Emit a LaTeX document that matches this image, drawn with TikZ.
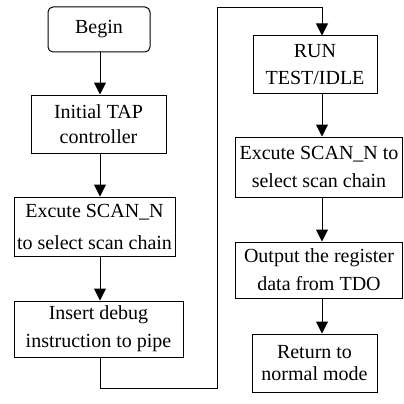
\documentclass[tikz,border=0pt]{standalone}
\usepackage{fontspec}
\setmainfont{Liberation Serif}
\newfontfamily\tnr{Liberation Serif}
\usetikzlibrary{arrows.meta}
\begin{document}
\begin{tikzpicture}[x=1pt,y=-1pt,
  box/.style={draw,line width=1pt,rectangle,inner sep=0pt,align=center,font=\tnr\fontsize{20}{26}\selectfont},
  arr/.style={line width=1pt,-{Triangle[width=12pt,length=12pt]}}]
\useasboundingbox (0,0) rectangle (404,404);
\coordinate (lx) at (100,0);
\coordinate (rx) at (322,0);
\node[box,rounded corners=5pt,minimum width=102pt,minimum height=45pt] (begin) at (99,29.5) {Begin};
\node[box,minimum width=135pt,minimum height=58pt,font=\tnr\fontsize{20}{25}\selectfont] (tap) at (98.5,124) {Initial TAP\\controller};
\node[box,minimum width=161pt,minimum height=59pt,font=\tnr\fontsize{20}{32}\selectfont] (scan1) at (94.5,226.5) {Excute SCAN\_N\\to select scan chain};
\node[box,minimum width=169pt,minimum height=56pt,font=\tnr\fontsize{20}{28}\selectfont] (insert) at (98.5,329) {Insert debug\\instruction to pipe};
\node[box,minimum width=124pt,minimum height=57pt,font=\tnr\fontsize{20}{27}\selectfont] (run) at (315,64.5) {RUN\\TEST/IDLE};
\node[box,minimum width=167pt,minimum height=60pt,font=\tnr\fontsize{20}{28}\selectfont] (scan2) at (319,167) {Excute SCAN\_N to\\select scan chain};
\node[box,minimum width=167pt,minimum height=56pt,font=\tnr\fontsize{20}{28}\selectfont] (output) at (319,270) {Output the register\\data from TDO};
\node[box,minimum width=125pt,minimum height=58pt,font=\tnr\fontsize{20}{22}\selectfont] (ret) at (314.5,363) {Return to\\normal mode};
\draw[arr] (begin.south -| lx) -- (tap.north -| lx);
\draw[arr] (tap.south -| lx) -- (scan1.north -| lx);
\draw[arr] (scan1.south -| lx) -- (insert.north -| lx);
\coordinate (c1) at (217,388);
\coordinate (c2) at (217,8);
\draw[arr] (insert.south -| lx) |- (c1) -- (c2) -| (run.north -| rx);
\draw[arr] (run.south -| rx) -- (scan2.north -| rx);
\draw[arr] (scan2.south -| rx) -- (output.north -| rx);
\draw[arr] (output.south -| rx) -- (ret.north -| rx);
\end{tikzpicture}
\end{document}
